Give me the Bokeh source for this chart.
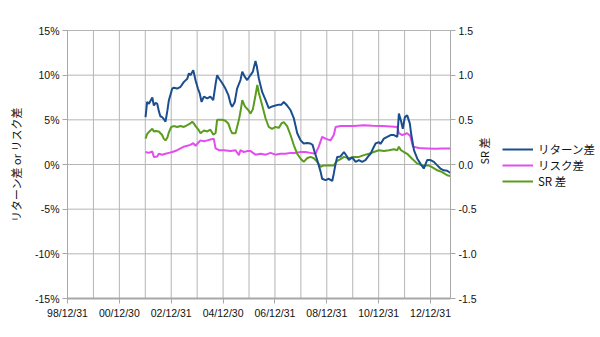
import math
from bokeh.plotting import figure
from bokeh.models import Range1d, LinearAxis, FixedTicker, Legend, LegendItem
from bokeh.embed import file_html
from bokeh.resources import INLINE

# decimal-year positions (1999.0 = 98/12/31)
ret_t = [2002.01, 2002.07, 2002.14, 2002.27, 2002.33, 2002.40, 2002.46, 2002.52, 2002.58, 2002.65,
         2002.71, 2002.78, 2002.85, 2002.91, 2003.04, 2003.10, 2003.23, 2003.36, 2003.49, 2003.62,
         2003.68, 2003.74, 2003.85, 2003.94, 2004.03, 2004.10, 2004.17, 2004.26, 2004.39, 2004.51,
         2004.62, 2004.71, 2004.77, 2004.85, 2004.97, 2005.09, 2005.20, 2005.29, 2005.35, 2005.45,
         2005.54, 2005.67, 2005.74, 2005.84, 2005.93, 2006.03, 2006.15, 2006.25, 2006.30, 2006.38,
         2006.51, 2006.64, 2006.76, 2006.89, 2007.02, 2007.15, 2007.25, 2007.34, 2007.47, 2007.60,
         2007.73, 2007.86, 2007.99, 2008.11, 2008.24, 2008.37, 2008.45, 2008.53, 2008.63, 2008.76,
         2008.82, 2008.95, 2009.08, 2009.21, 2009.27, 2009.34, 2009.40, 2009.53, 2009.66, 2009.78,
         2009.85, 2009.98, 2010.11, 2010.24, 2010.36, 2010.49, 2010.62, 2010.69, 2010.75, 2010.88,
         2011.01, 2011.07, 2011.20, 2011.33, 2011.46, 2011.59, 2011.72, 2011.78, 2011.86, 2011.93,
         2012.01, 2012.10, 2012.20, 2012.26, 2012.36, 2012.49, 2012.61, 2012.74, 2012.87, 2013.00,
         2013.13, 2013.26, 2013.38, 2013.51, 2013.64, 2013.77]
ret_v = [5.3, 7.0, 6.8, 7.5, 6.6, 6.9, 6.8, 6.0, 5.4, 5.3,
         5.1, 4.8, 6.0, 7.2, 8.5, 8.6, 8.5, 8.7, 9.25, 9.6,
         10.2, 10.0, 10.55, 9.4, 8.5, 7.95, 7.0, 7.6, 7.4, 7.6,
         7.2, 9.0, 10.0, 9.6, 9.1, 8.5, 7.8, 6.8, 6.45, 7.0,
         8.5, 9.45, 10.4, 9.8, 9.45, 9.9, 10.4, 11.6, 11.0, 9.6,
         8.1, 7.2, 6.3, 6.5, 6.6, 6.7, 6.7, 7.0, 6.6, 6.1,
         5.15, 3.5, 2.7, 2.35, 2.4, 2.35, 2.2, 1.4, 0.5, -0.8,
         -1.6, -1.75, -1.6, -1.85, -1.0, 0.1, 0.85, 0.9, 1.4, 0.9,
         0.5, 0.8, 0.3, 0.5, 0.3, 0.5, 1.0, 1.2, 1.6, 2.35,
         2.5, 2.3, 2.9, 3.1, 3.3, 3.3, 3.1, 5.7, 4.9, 4.0,
         5.3, 5.5, 4.6, 3.3, 1.6, 0.65, 0.1, -0.45, 0.5, 0.5,
         0.3, -0.1, -0.45, -0.65, -0.7, -0.95]

risk_t = [2002.01, 2002.14, 2002.27, 2002.33, 2002.46, 2002.52, 2002.65, 2002.78, 2002.91, 2003.04,
          2003.23, 2003.36, 2003.49, 2003.62, 2003.74, 2003.85, 2003.94, 2004.06, 2004.13, 2004.26,
          2004.39, 2004.51, 2004.64, 2004.71, 2004.84, 2005.03, 2005.29, 2005.48, 2005.61, 2005.67,
          2005.80, 2005.93, 2006.06, 2006.25, 2006.45, 2006.64, 2006.83, 2007.02, 2007.21, 2007.40,
          2007.60, 2007.79, 2007.99, 2008.18, 2008.37, 2008.56, 2008.69, 2008.82, 2008.95, 2009.14,
          2009.27, 2009.34, 2009.53, 2009.78, 2010.04, 2010.43, 2010.75, 2011.14, 2011.46, 2011.72,
          2011.78, 2011.91, 2012.10, 2012.22, 2012.32, 2012.55, 2012.87, 2013.19, 2013.45, 2013.77]
risk_v = [1.4, 1.3, 1.45, 0.85, 0.9, 1.2, 1.1, 1.2, 1.3, 1.4,
          1.6, 1.8, 2.0, 2.1, 2.2, 2.4, 2.1, 2.5, 2.7, 2.6,
          2.7, 2.8, 2.9, 1.8, 1.6, 1.6, 1.5, 1.6, 1.05, 1.6,
          1.4, 1.5, 1.5, 1.1, 1.2, 1.1, 1.3, 1.1, 1.2, 1.2,
          1.3, 1.3, 1.4, 1.4, 1.3, 1.2, 2.0, 3.1, 2.9, 2.7,
          3.3, 4.2, 4.3, 4.3, 4.3, 4.4, 4.35, 4.3, 4.25, 4.2,
          3.5, 3.3, 3.5, 3.2, 2.0, 1.85, 1.8, 1.75, 1.8, 1.8]

sr_t = [2002.01, 2002.07, 2002.14, 2002.27, 2002.33, 2002.40, 2002.52, 2002.65, 2002.71, 2002.78,
        2002.85, 2002.91, 2003.00, 2003.10, 2003.23, 2003.36, 2003.49, 2003.62, 2003.74, 2003.81,
        2003.87, 2003.94, 2004.06, 2004.13, 2004.26, 2004.39, 2004.51, 2004.62, 2004.71, 2004.77,
        2004.97, 2005.09, 2005.20, 2005.29, 2005.35, 2005.48, 2005.61, 2005.67, 2005.74, 2005.84,
        2005.97, 2006.06, 2006.15, 2006.25, 2006.32, 2006.38, 2006.51, 2006.64, 2006.76, 2006.89,
        2007.02, 2007.15, 2007.25, 2007.34, 2007.47, 2007.60, 2007.73, 2007.86, 2007.99, 2008.11,
        2008.24, 2008.37, 2008.50, 2008.63, 2008.76, 2008.88, 2009.08, 2009.27, 2009.40, 2009.53,
        2009.66, 2009.85, 2010.04, 2010.24, 2010.43, 2010.62, 2010.81, 2011.01, 2011.20, 2011.40,
        2011.59, 2011.72, 2011.78, 2011.86, 2011.97, 2012.10, 2012.29, 2012.49, 2012.67, 2012.93,
        2013.06, 2013.26, 2013.45, 2013.64, 2013.77]
sr_v = [0.29, 0.34, 0.365, 0.40, 0.37, 0.375, 0.37, 0.33, 0.29, 0.27,
        0.30, 0.36, 0.42, 0.43, 0.42, 0.43, 0.42, 0.44, 0.46, 0.48,
        0.46, 0.43, 0.385, 0.35, 0.38, 0.37, 0.39, 0.335, 0.35, 0.50,
        0.50, 0.49, 0.46, 0.385, 0.35, 0.35, 0.50, 0.59, 0.72, 0.65,
        0.61, 0.57, 0.62, 0.775, 0.89, 0.80, 0.66, 0.515, 0.42, 0.40,
        0.42, 0.41, 0.46, 0.475, 0.43, 0.33, 0.215, 0.12, 0.065, 0.03,
        0.07, 0.085, 0.07, 0.03, -0.025, -0.01, -0.01, -0.01, 0.04, 0.06,
        0.085, 0.07, 0.085, 0.085, 0.105, 0.12, 0.14, 0.16, 0.15, 0.16,
        0.17, 0.16, 0.20, 0.16, 0.14, 0.12, 0.065, 0.01, -0.01, -0.01,
        -0.03, -0.065, -0.085, -0.12, -0.13]

x_start, x_end = 1999.0, 2013.77
x_ticks = [1999, 2001, 2003, 2005, 2007, 2009, 2011, 2013]
x_labels = ["98/12/31", "00/12/30", "02/12/31", "04/12/30", "06/12/31", "08/12/31", "10/12/31", "12/12/31"]
year_grid = list(range(1999, 2014))
y_lo, y_hi = -15, 15
left_ticks = [-15, -10, -5, 0, 5, 10, 15]
left_labels = ["-15%", "-10%", "-5%", "0%", "5%", "10%", "15%"]
sr_lo, sr_hi = -1.5, 1.5
right_ticks = [-1.5, -1.0, -0.5, 0.0, 0.5, 1.0, 1.5]
right_labels = ["-1.5", "-1.0", "-0.5", "0.0", "0.5", "1.0", "1.5"]

GRID = "#b5b5b5"
AXC = "#a8a8a8"
TICKFONT = "Liberation Sans"
JFONT = "Noto Sans CJK JP"

# Layout (pixels): chart area from x=67..450, y=30..298 inside a 600x337 canvas.
W, H = 600, 337
L, R, T, B = 67, 450, 30, 298
xs = (R - L) / (x_end - x_start)
ys = (B - T) / (y_hi - y_lo)
xr = Range1d(x_start - L / xs, x_end + (W - R) / xs)
yr = Range1d(y_lo - (H - B) / ys, y_hi + T / ys)
k = (sr_hi - sr_lo) / (y_hi - y_lo)

p = figure(width=W, height=H, output_backend="svg", toolbar_location=None,
           x_range=xr, y_range=yr,
           min_border_left=0, min_border_right=0, min_border_top=0, min_border_bottom=0)
p.outline_line_color = None
p.background_fill_color = "white"
p.border_fill_color = "white"
p.extra_y_ranges = {"sr": Range1d(yr.start * k, yr.end * k)}
p.grid.visible = False

# grid lines restricted to the chart area
p.segment(x0=[x_start] * len(left_ticks), y0=left_ticks, x1=[x_end] * len(left_ticks), y1=left_ticks,
          line_color=GRID, line_width=1)
p.segment(x0=year_grid, y0=[y_lo] * len(year_grid), x1=year_grid, y1=[y_hi] * len(year_grid),
          line_color=GRID, line_width=1)

p.xaxis.ticker = FixedTicker(ticks=x_ticks)
p.xaxis.major_label_overrides = {t: l for t, l in zip(x_ticks, x_labels)}
p.xaxis.bounds = (x_start, x_end)
p.xaxis.fixed_location = y_lo
p.yaxis.ticker = FixedTicker(ticks=left_ticks)
p.yaxis.major_label_overrides = {t: l for t, l in zip(left_ticks, left_labels)}
p.yaxis.bounds = (y_lo, y_hi)
p.yaxis.fixed_location = x_start
p.yaxis.axis_label = "リターン差 or リスク差"

rax = LinearAxis(y_range_name="sr", ticker=FixedTicker(ticks=right_ticks),
                 major_label_overrides={t: l for t, l in zip(right_ticks, right_labels)},
                 axis_label="SR 差", fixed_location=x_end, bounds=(sr_lo, sr_hi))
p.add_layout(rax, "right")

for ax in p.axis:
    ax.axis_line_color = AXC
    ax.major_tick_line_color = AXC
    ax.minor_tick_line_color = None
    ax.major_tick_out = 5
    ax.major_tick_in = 0
    ax.major_label_text_font = TICKFONT
    ax.major_label_text_font_size = "10.5px"
    ax.major_label_text_color = "#111111"
    ax.major_label_standoff = 3
    ax.axis_label_text_font = JFONT
    ax.axis_label_text_font_size = "11px"
    ax.axis_label_text_font_style = "normal"
    ax.axis_label_text_color = "#111111"
    ax.axis_label_standoff = 8
p.xaxis.axis_line_width = 2
rax.axis_label_standoff = 4
rax.axis_label_orientation = math.pi / 2

r_risk = p.line(risk_t, risk_v, line_color="#e34cf0", line_width=2)
r_sr = p.line(sr_t, sr_v, line_color="#5a9c1e", line_width=2, y_range_name="sr")
r_ret = p.line(ret_t, ret_v, line_color="#1b4e8e", line_width=2)

legend = Legend(items=[LegendItem(label="リターン差", renderers=[r_ret]),
                       LegendItem(label="リスク差", renderers=[r_risk]),
                       LegendItem(label="SR 差", renderers=[r_sr])],
                location=(502, 148), background_fill_alpha=0, border_line_color=None,
                padding=0, margin=0, spacing=0, glyph_width=31, glyph_height=14,
                label_height=14, label_standoff=5,
                label_text_font=JFONT, label_text_font_size="11.5px", label_text_color="#111111")
p.add_layout(legend)

open("out.html", "w").write(file_html(p, INLINE))
